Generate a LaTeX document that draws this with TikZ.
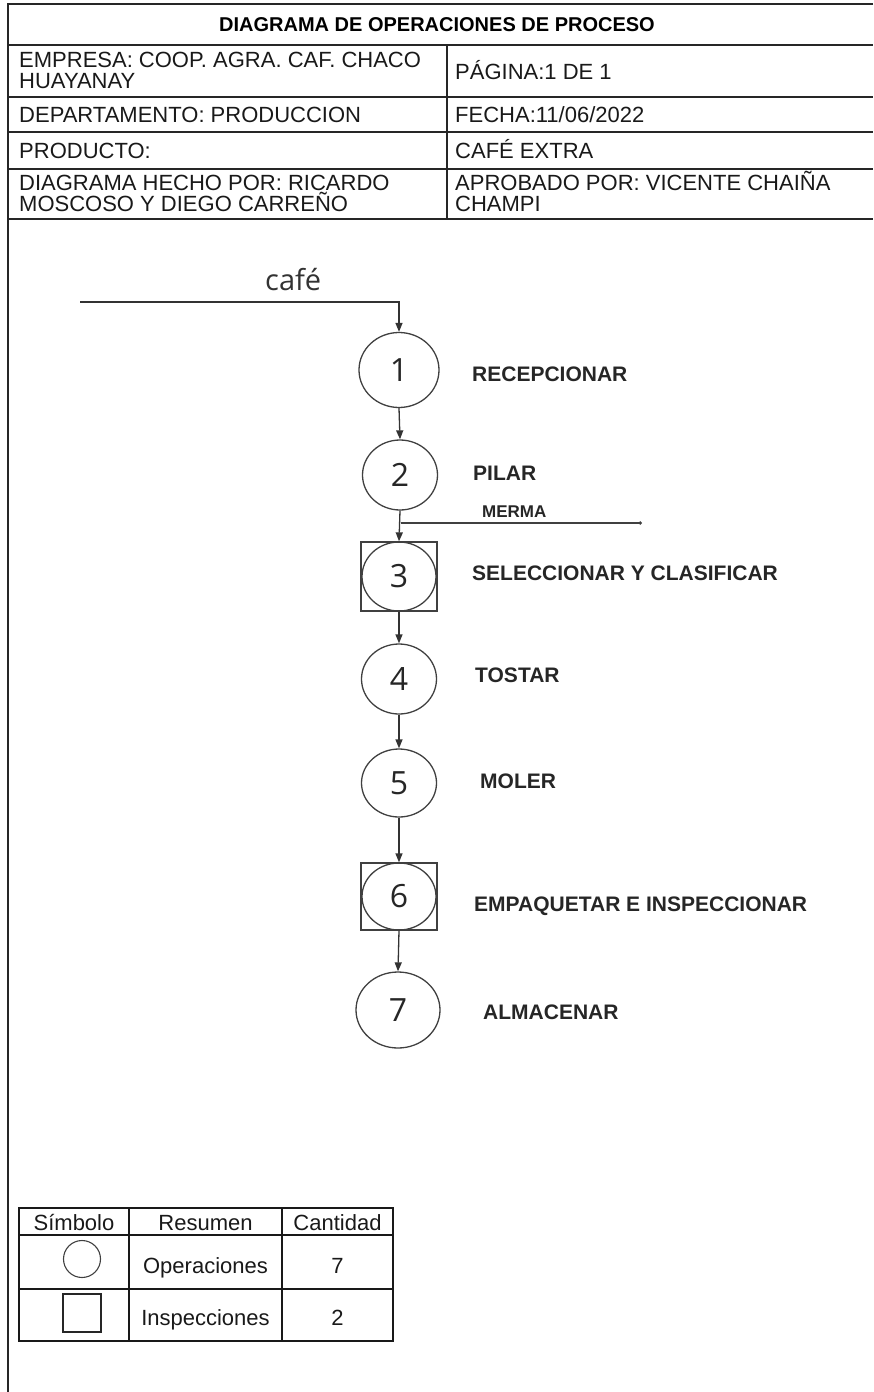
\documentclass[tikz,border=0pt]{standalone}
\usepackage{fontspec}
\setmainfont{Liberation Sans}
\newfontfamily\opensans{Open Sans}
\usetikzlibrary{arrows.meta,shapes.geometric}

\begin{document}
\begin{tikzpicture}[x=1pt,y=-1pt,
  rule/.style={draw=black!85, line width=1.6pt},
  thin rule/.style={draw=black!90, line width=1.2pt},
  % multi-line nodes: the base anchor sits on the last line
  hdr/.style={font=\fontsize{22}{21}\selectfont, inner sep=0pt, anchor=base west, align=left, text=black!90},
  title/.style={font=\bfseries\fontsize{20}{20}\selectfont, inner sep=0pt, text=black},
  lbl/.style={font=\bfseries\fontsize{21}{21}\selectfont, inner sep=0pt, anchor=base west, text=black!85},
  opc/.style={ellipse, draw=black!75, line width=1.3pt, inner sep=0pt,
    font=\opensans\fontsize{32}{32}\selectfont, text=black!85},
  insp/.style={rectangle, draw=black!75, line width=1.3pt, inner sep=0pt,
    minimum width=76pt, minimum height=69pt},
  flow/.style={draw=black!80, line width=1.3pt, -{Triangle[length=9pt,width=7pt]}},
  tcell/.style={font=\fontsize{22}{22}\selectfont, inner sep=0pt, anchor=base, text=black!90}
]
\useasboundingbox (0,0) rectangle (873,1392);

% ---------- header frame ----------
\draw[rule] (873,4) -- (8,4) -- (8,1392);
\foreach \yy in {45,97,132,169,219}
  \draw[rule] (8,\yy) -- (873,\yy);
\draw[rule] (447,45) -- (447,219);

\node[title] (ttl) at (437,25) {DIAGRAMA DE OPERACIONES DE PROCESO};
\node[hdr] (emp) at (19,88) {EMPRESA: COOP. AGRA. CAF. CHACO\\HUAYANAY};
\node[hdr] (pag) at (455,79) {PÁGINA:1 DE 1};
\node[hdr] (dep) at (19,122) {DEPARTAMENTO: PRODUCCION};
\node[hdr] (fec) at (455,122) {FECHA:11/06/2022};
\node[hdr] (pro) at (19,158) {PRODUCTO:};
\node[hdr] (caf) at (455,158) {CAFÉ EXTRA};
\node[hdr] (hec) at (19,211) {DIAGRAMA HECHO POR: RICARDO\\MOSCOSO Y DIEGO CARREÑO};
\node[hdr] (apr) at (455,211) {APROBADO POR: VICENTE CHAIÑA\\CHAMPI};

% ---------- process chart ----------
\node[font=\opensans\fontsize{29}{29}\selectfont, text=black!80, inner sep=0pt, anchor=base west]
  (cafe) at (265,290) {café};
\coordinate (in) at (80,302);

\node[opc, minimum width=80pt, minimum height=75pt] (c1) at (399,370) {1};
\node[opc, minimum width=75pt, minimum height=70pt] (c2) at (400,475) {2};
\node[insp] (s3) at (399,576.5) {};
\node[opc, minimum width=74pt, minimum height=69pt] (c3) at (s3.center) {3};
\node[opc, minimum width=75pt, minimum height=70pt] (c4) at (399,679) {4};
\node[opc, minimum width=75pt, minimum height=68pt] (c5) at (399,783) {5};
\node[insp, minimum height=67pt] (s6) at (399,896.5) {};
\node[opc, minimum width=74pt, minimum height=67pt] (c6) at (s6.center) {6};
\node[opc, minimum width=84pt, minimum height=76pt] (c7) at (398,1010) {7};

\node[lbl] (l1) at (472,381) {RECEPCIONAR};
\node[lbl] (l2) at (473,480) {PILAR};
\node[lbl] (l3) at (472,580) {SELECCIONAR Y CLASIFICAR};
\node[lbl] (l4) at (475,682) {TOSTAR};
\node[lbl] (l5) at (480,788) {MOLER};
\node[lbl] (l6) at (474,911) {EMPAQUETAR E INSPECCIONAR};
\node[lbl] (l7) at (483,1019) {ALMACENAR};

\draw[flow] (in) -| (c1.north);
\draw[flow] (c1.south) -- (c2.north);
\draw[flow] (c2.south) -- (s3.north);
\draw[flow] (s3.south) -- (c4.north);
\draw[flow] (c4.south) -- (c5.north);
\draw[flow] (c5.south) -- (s6.north);
\draw[flow] (s6.south) -- (c7.north);

% waste leaving after step 2
\coordinate (m0) at (401,523);
\coordinate (m1) at (642,523);
\draw[draw=black!75, line width=1.1pt, -{Circle[length=3.5pt]}] (m0) -- (m1);
\node[lbl, font=\bfseries\fontsize{17}{17}\selectfont] (mer) at (482,517) {MERMA};

% ---------- summary table ----------
\draw[thin rule] (19,1208) rectangle (393,1341);
\draw[thin rule] (19,1235) -- (393,1235);
\draw[thin rule] (19,1289) -- (393,1289);
\draw[thin rule] (129,1208) -- (129,1341);
\draw[thin rule] (282,1208) -- (282,1341);

\node[tcell] (h1) at (74,1230) {Símbolo};
\node[tcell] (h2) at (205.5,1230) {Resumen};
\node[tcell] (h3) at (337.5,1230) {Cantidad};
\node[circle, draw=black!75, line width=1.1pt, minimum size=37pt, inner sep=0pt] (symop) at (82,1259) {};
\node[tcell] (op) at (205.5,1273) {Operaciones};
\node[tcell] (opn) at (337.5,1273) {7};
\node[rectangle, draw=black!85, line width=1.1pt, minimum size=38pt, inner sep=0pt] (symin) at (82,1313) {};
\node[tcell] (in2) at (205.5,1325) {Inspecciones};
\node[tcell] (inn) at (337.5,1325) {2};
\end{tikzpicture}
\end{document}
